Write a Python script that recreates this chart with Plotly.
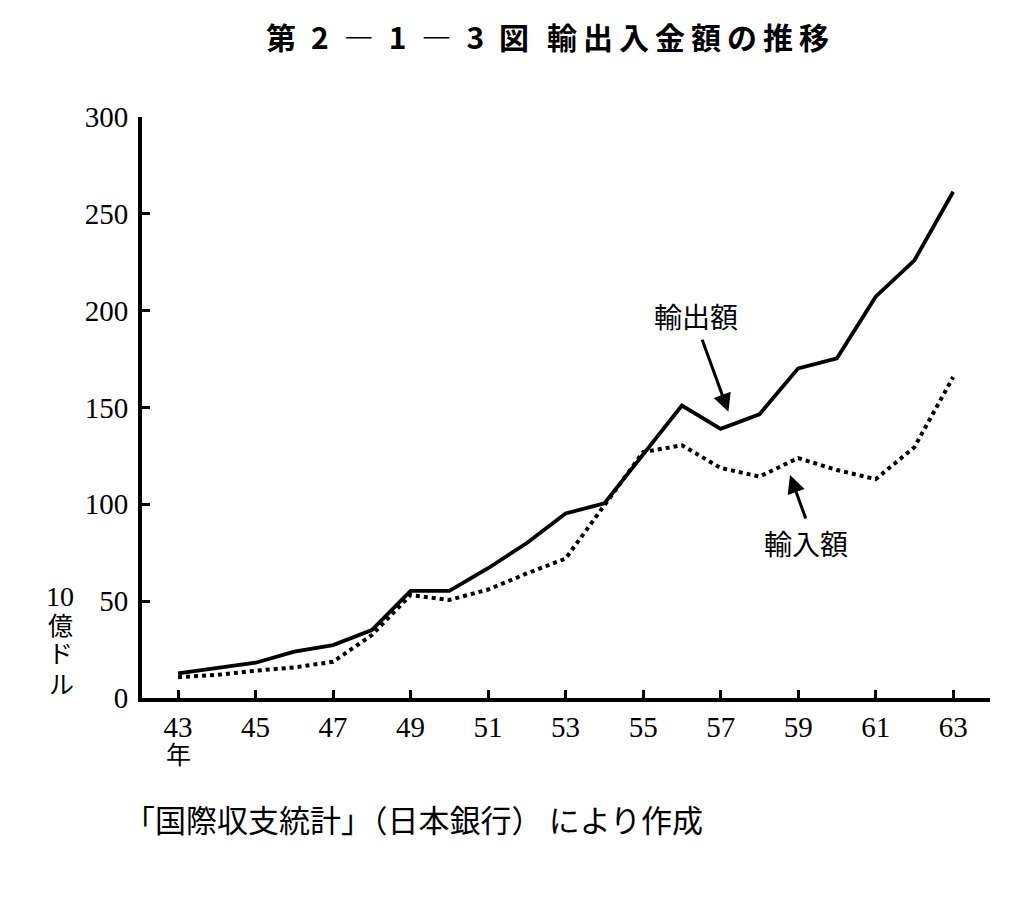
import plotly.graph_objects as go

years = [43, 44, 45, 46, 47, 48, 49, 50, 51, 52, 53, 54, 55, 56, 57, 58, 59, 60, 61, 62, 63]
exports = [12.7, 15.6, 18.2, 23.9, 27.3, 35.1, 55.3, 55.3, 67.0, 80.0, 95.3, 100.5, 125.5, 151.0, 139.0, 146.5, 170.2, 175.4, 207.2, 226.0, 261.4]
imports = [10.7, 11.9, 14.1, 15.8, 18.7, 32.5, 53.2, 50.6, 56.0, 64.3, 72.0, 99.6, 127.0, 130.5, 118.8, 114.3, 123.9, 117.7, 113.0, 129.5, 165.7]
tick_vals = [43, 45, 47, 49, 51, 53, 55, 57, 59, 61, 63]
tick_text = ["43", "45", "47", "49", "51", "53", "55", "57", "59", "61", "63"]
y_ticks = [0, 50, 100, 150, 200, 250, 300]

title_a = "第\u20022\u2002―\u20021\u2002―\u20023\u2002図"
title_b = "\u2009".join("輸出入金額の推移")
source_text = "「国際収支統計」（日本銀行）\u2009により作成"
export_label = "輸出額"
import_label = "輸入額"

SERIF = "Liberation Serif, Times New Roman, serif"
JP = "Noto Sans CJK JP"

# plot area in page pixels (page has an 8px body margin)
PX0, PX1, PY0, PY1 = 142, 990, 117, 698


def px(x):
    return (x - PX0) / (PX1 - PX0)


def py(y):
    return (PY1 - y) / (PY1 - PY0)


fig = go.Figure()
fig.add_trace(go.Scatter(x=years, y=exports, mode="lines", name=export_label,
                         line=dict(color="black", width=3.8)))
fig.add_trace(go.Scatter(x=years, y=imports, mode="lines", name=import_label,
                         line=dict(color="black", width=4, dash="4px,4px")))

fig.update_layout(
    width=1027, height=899,
    margin=dict(l=134, r=45, t=109, b=209),
    paper_bgcolor="white", plot_bgcolor="white",
    showlegend=False,
    font=dict(family=SERIF, color="black", size=26),
)
fig.update_xaxes(range=[42.07, 63.95], tickmode="array", tickvals=tick_vals, ticktext=tick_text,
                 showgrid=False, zeroline=False, showline=True, linecolor="black", linewidth=4,
                 ticks="inside", ticklen=8, tickwidth=3, tickcolor="black",
                 tickfont=dict(family=SERIF, size=29), ticklabelstandoff=0)
fig.update_yaxes(range=[0, 300], tickmode="array", tickvals=y_ticks,
                 showgrid=False, zeroline=False, showline=True, linecolor="black", linewidth=4,
                 ticks="inside", ticklen=8, tickwidth=3, tickcolor="black",
                 tickfont=dict(family=SERIF, size=29), ticklabelstandoff=4)


def note(text, x, y, family, size, anchor="center"):
    return dict(text=text, xref="paper", yref="paper", x=px(x), y=py(y), showarrow=False,
                xanchor=anchor, yanchor="middle", font=dict(family=family, size=size))


annotations = [
    note("<b>" + title_a + "</b>", 397, 36, JP, 30),
    note("<b>" + title_b + "</b>", 688, 36, JP, 30),
    note(source_text, 122, 818, JP, 31, anchor="left"),
    note("年", 178, 753, JP, 25),
    note("10", 60, 596, SERIF, 28),
    note("億", 60, 624, JP, 25),
    note("ド", 60, 652, JP, 25),
    note("ル", 61, 683, JP, 25),
    note(export_label, 696, 316, JP, 28),
    note(import_label, 806, 543, JP, 28),
    dict(x=57.2, y=147.8, ax=56.51, ay=185.7, axref="x", ayref="y", text="", showarrow=True,
         arrowhead=2, arrowsize=1.2, arrowwidth=3, arrowcolor="black"),
    dict(x=58.79, y=115.1, ax=59.21, ay=91.9, axref="x", ayref="y", text="", showarrow=True,
         arrowhead=2, arrowsize=1.2, arrowwidth=3, arrowcolor="black"),
]
fig.update_layout(annotations=annotations)
fig.write_html("out.html")
